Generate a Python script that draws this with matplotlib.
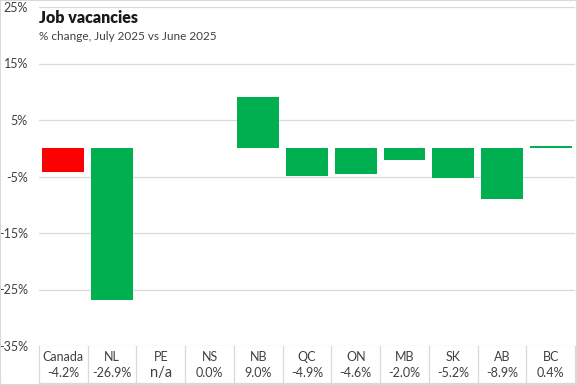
import matplotlib
matplotlib.use("Agg")
import matplotlib.pyplot as plt
from matplotlib.transforms import blended_transform_factory

plt.rcParams['font.family'] = ['Lato', 'DejaVu Sans']

# data
regions = ["Canada", "NL", "PE", "NS", "NB", "QC", "ON", "MB", "SK", "AB", "BC"]
values = [-4.2, -26.9, None, 0.0, 9.0, -4.9, -4.6, -2.0, -5.2, -8.9, 0.4]
labels = ["-4.2%", "-26.9%", "n/a", "0.0%", "9.0%", "-4.9%", "-4.6%", "-2.0%", "-5.2%", "-8.9%", "0.4%"]
yticks = [25, 15, 5, -5, -15, -25, -35]

fig = plt.figure(figsize=(5.77, 3.85), dpi=100)
ax = fig.add_axes([39/577, (385-346)/385, (575-39)/577, (346-7)/385])

grid = "#d9d9d9"
xs = list(range(len(regions)))
for x, v in zip(xs, values):
    if v is None:
        continue
    col = "#ff0000" if x == 0 else "#00b050"
    ax.bar(x, v, width=0.86, color=col, zorder=3)

ax.set_xlim(-0.5, len(regions) - 0.5)
ax.set_ylim(-35, 25)
ax.set_yticks(yticks)
ax.set_yticklabels([f"{t}%" for t in yticks], fontsize=9, color="#404040")
ax.tick_params(axis="y", length=0, pad=8)
ax.set_xticks([])
for t in yticks:
    ax.axhline(t, color=grid, lw=0.9, zorder=1)
for s in ax.spines.values():
    s.set_visible(False)

# table under the chart
tr = blended_transform_factory(ax.transData, ax.transAxes)
h = 346 - 7
yb = -(383 - 346) / h
for i in range(len(regions) + 1):
    ax.plot([i - 0.5, i - 0.5], [0, yb], transform=tr, color=grid, lw=0.9, clip_on=False)
ax.plot([-0.5, len(regions) - 0.5], [yb, yb], transform=tr, color=grid, lw=0.9, clip_on=False)
for i, (r, l) in enumerate(zip(regions, labels)):
    ax.text(i, -(357 - 346) / h, r, transform=tr, ha="center", va="center", fontsize=9, color="#404040")
    fs = 10.5 if l == "n/a" else 9
    ax.text(i, -(373 - 346) / h, l, transform=tr, ha="center", va="center", fontsize=fs, color="#404040")

fig.text(39/577, 1 - 18/385, "Job vacancies", fontsize=11.5, fontweight="heavy", color="#1a1a1a", va="center")
fig.text(39/577, 1 - 36/385, "% change, July 2025 vs June 2025", fontsize=8.5, color="#404040", va="center")

# outer border
fig.patches.append(plt.Rectangle((0, 0), 1, 1, transform=fig.transFigure, fill=False,
                                 edgecolor="#d9d9d9", lw=1.5))

fig.savefig("out.png", dpi=100)
